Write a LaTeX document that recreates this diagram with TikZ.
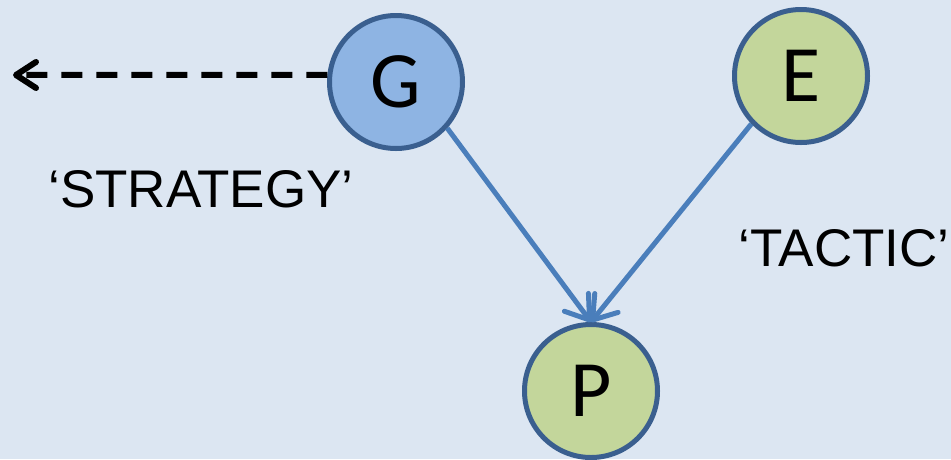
\documentclass[tikz,border=0pt]{standalone}
\usepackage{fontspec}
\setmainfont{Liberation Sans}
\newfontfamily\calib{Carlito}
\usetikzlibrary{arrows.meta}
\definecolor{bgc}{HTML}{DCE6F2}
\definecolor{edgec}{HTML}{3A5F8F}
\definecolor{bluef}{HTML}{8EB4E3}
\definecolor{greenf}{HTML}{C3D69B}
\definecolor{linkc}{HTML}{4A7EBB}
\begin{document}
\begin{tikzpicture}[x=1pt,y=-1pt,
  var/.style={circle,draw=edgec,line width=5pt,minimum size=133pt,inner sep=0pt,font=\calib\fontsize{80}{80}\selectfont},
  link/.style={draw=linkc,line width=5pt,-{Straight Barb[length=22pt,width=30pt,line width=5pt,round]}},
  lbl/.style={font=\fontsize{53}{60}\selectfont,inner sep=0pt}]
\fill[bgc] (0,0) rectangle (951,459);
\useasboundingbox (0,0) rectangle (951,459);
\node[var,fill=bluef] (G) at (396,82) {G};
\node[var,fill=greenf] (E) at (801,76) {E};
\node[var,fill=greenf] (P) at (591,391) {P};
\coordinate (L) at (13,75);
\draw[link] (G.-42) -- (P.north);
\draw[link] (E.-136) -- (P.north);
\draw[black,line width=6pt,dash pattern=on 21pt off 14pt,-{Straight Barb[length=20pt,width=26pt,line width=6pt,round]}] (G.174) -- (L);
\node[lbl] (S) at (201,189) {‘STRATEGY’};
\node[lbl] (T) at (844,248) {‘TACTIC’};
\end{tikzpicture}
\end{document}
